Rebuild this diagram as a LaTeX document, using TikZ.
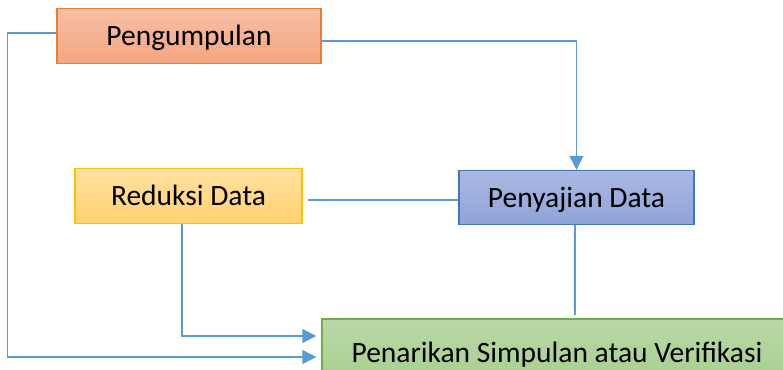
\documentclass[tikz,border=0pt]{standalone}
\usepackage{fontspec}
\setmainfont{Carlito}
\usepackage{xcolor}
\usetikzlibrary{arrows.meta,positioning}
\definecolor{alurblue}{HTML}{5B9BD5}
\definecolor{orline}{HTML}{ED7D31}
\definecolor{ortop}{HTML}{F7C0A6}
\definecolor{orbot}{HTML}{F4A57F}
\definecolor{yeline}{HTML}{FFC000}
\definecolor{yetop}{HTML}{FFE1A0}
\definecolor{yebot}{HTML}{FFD270}
\definecolor{blline}{HTML}{4472C4}
\definecolor{bltop}{HTML}{AAB9E2}
\definecolor{blbot}{HTML}{8EA3D8}
\definecolor{grline}{HTML}{70AD47}
\definecolor{grtop}{HTML}{B9D9A6}
\definecolor{grbot}{HTML}{A6CD8C}

\begin{document}
\begin{tikzpicture}[x=1pt,y=-1pt,font=\fontsize{29.5}{34}\selectfont,
  tahap/.style={draw,line width=1.4pt,inner sep=0pt,anchor=center,text height=19pt,text depth=0pt},
  link/.style={draw=alurblue,line width=1.2pt},
  arr/.style={link,-{Triangle[length=14pt,width=14pt]}}]
  \clip (0,0) rectangle (783,369);
  \node[tahap,draw=orline,top color=ortop,bottom color=orbot,minimum width=264pt,minimum height=55pt] (kumpul) at (189,36) {Pengumpulan};
  \node[tahap,draw=yeline,top color=yetop,bottom color=yebot,minimum width=227pt,minimum height=55pt] (reduksi) at (188.5,196) {Reduksi Data};
  \node[tahap,draw=blline,top color=bltop,bottom color=blbot,minimum width=235pt,minimum height=54pt] (saji) at (576.5,197.5) {Penyajian Data};
  \node[tahap,draw=grline,top color=grtop,bottom color=grbot,minimum width=470pt,minimum height=68pt] (tarik) at (557,353) {Penarikan Simpulan atau Verifikasi};
  % alur antar tahap
  \draw[arr] ([yshift=-5pt]kumpul.east) -| (saji.north);
  \draw[arr,shorten >=5pt] ([yshift=3pt]kumpul.west) -- ++(-49,0) |- ([yshift=-4pt]tarik.west);
  \draw[arr,shorten >=5pt] ([xshift=-6.5pt]reduksi.south) |- ([yshift=17pt]tarik.west);
  \draw[link] ([yshift=-2.5pt]saji.west) -- ([xshift=5pt,yshift=-2.5pt]saji.west -| reduksi.east);
  \draw[link] ([xshift=-1.5pt]saji.south) -- ([xshift=-1.5pt,yshift=3pt]saji.south |- tarik.north);
\end{tikzpicture}
\end{document}
